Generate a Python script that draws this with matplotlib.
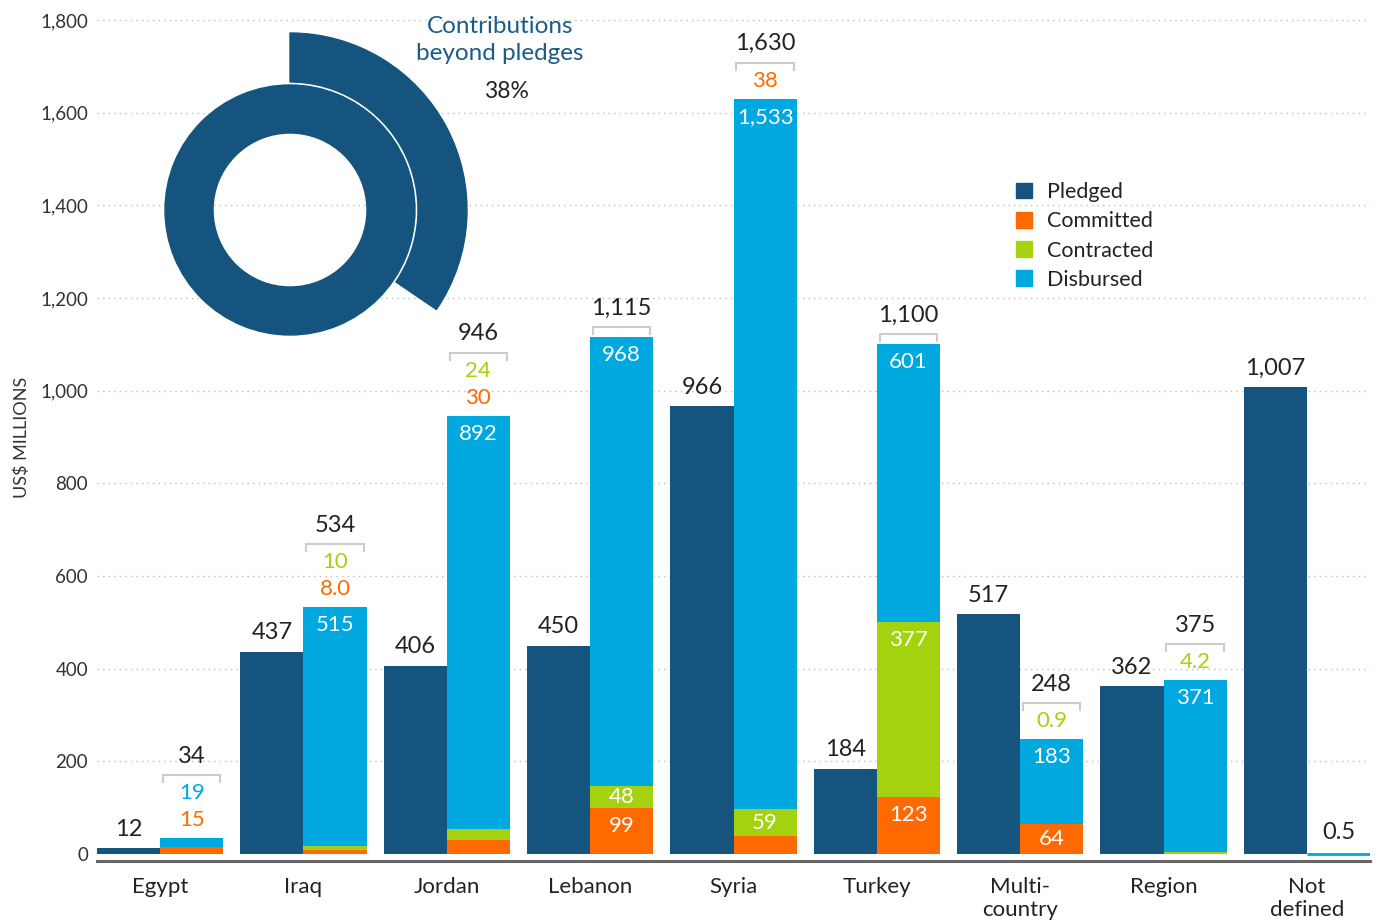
import numpy as np
import matplotlib
matplotlib.use("Agg")
import matplotlib.pyplot as plt
from matplotlib.patches import Patch, Wedge
from matplotlib.ticker import FuncFormatter
from matplotlib import transforms

plt.rcParams['font.family'] = ['Lato', 'DejaVu Sans']

# data (US$ millions)
categories = ['Egypt', 'Iraq', 'Jordan', 'Lebanon', 'Syria', 'Turkey',
              'Multi-\ncountry', 'Region', 'Not\ndefined']
pledged = [12, 437, 406, 450, 966, 184, 517, 362, 1007]
committed = [15, 8.0, 30, 99, 38, 123, 64, 0, 0]
contracted = [0, 10, 24, 48, 59, 377, 0.9, 4.2, 0]
disbursed = [19, 515, 892, 968, 1533, 601, 183, 371, 0.5]
totals = [34, 534, 946, 1115, 1630, 1100, 248, 375, 0.5]

beyond_label = '38%'
arc_share = 0.345   # share of the circle covered by the outer arc, as drawn

c_pledged = '#14547f'
c_committed = '#ff6a00'
c_contracted = '#a4d20e'
c_disbursed = '#00a8e0'
c_text = '#222222'

W, H = 1377, 922
fig = plt.figure(figsize=(W / 100, H / 100), dpi=100)
ax = fig.add_axes([97 / W, 1 - 860.5 / H, 1273 / W, 842.8 / H])

ymin, ymax = -14, 1805
ax.set_xlim(-0.44, 8.44)
ax.set_ylim(ymin, ymax)
ppu = 842.8 / (ymax - ymin)   # pixels per unit

for g in range(200, 1801, 200):
    ax.axhline(g, color='#bdbdbd', lw=1, ls=(0, (1, 3)), zorder=0)

w = 0.44
x = np.arange(len(categories))


def fmt(v):
    return f'{v:.1f}' if v < 10 else f'{v:,.0f}'


def off(dy):
    return transforms.offset_copy(ax.transData, fig=fig, x=0, y=dy, units='dots')


# pledged bars
ax.bar(x - w / 2, pledged, width=w, color=c_pledged, zorder=2)
for xi, v in zip(x, pledged):
    ax.annotate(fmt(v), (xi - w / 2, v), xytext=(0, 19), textcoords='offset pixels',
                ha='center', va='center', fontsize=17, color=c_text)

# stacked bars: committed, contracted, disbursed
segs = [(committed, c_committed), (contracted, c_contracted), (disbursed, c_disbursed)]
bottom = np.zeros(len(categories))
for vals, col in segs:
    ax.bar(x + w / 2, vals, width=w, bottom=bottom, color=col, zorder=2)
    bottom = bottom + np.array(vals)
# the 0.5 sliver still shows as a thin line
ax.plot([x[-1], x[-1] + w], [0.5, 0.5], color=c_disbursed, lw=2, zorder=2,
        solid_capstyle='butt')

for i in range(len(categories)):
    xs = x[i] + w / 2
    top = bottom[i]
    base = 0
    outside = []
    nonzero = 0
    for vals, col in segs:
        v = vals[i]
        if v == 0:
            continue
        nonzero += 1
        hpx = v * ppu
        if hpx >= 20:
            dy = -min(18, hpx / 2)
            ax.annotate(fmt(v), (xs, base + v), xytext=(0, dy), textcoords='offset pixels',
                        ha='center', va='center', fontsize=16, color='white', zorder=3)
        else:
            outside.append((v, col))
        base += v
    if nonzero == 1 and len(outside) == 1:
        ax.annotate(fmt(totals[i]), (xs, top), xytext=(0, 21), textcoords='offset pixels',
                    ha='center', va='center', fontsize=17, color=c_text)
        continue
    dy = 18
    for k, (v, col) in enumerate(outside):
        ax.annotate(fmt(v), (xs, top), xytext=(0, dy), textcoords='offset pixels',
                    ha='center', va='center', fontsize=16, color=col)
        dy += 27
    dy_br = dy - 9 if outside else 10
    tr = off(dy_br)
    ax.plot([xs - w / 2 + 0.02, xs - w / 2 + 0.02, xs + w / 2 - 0.02, xs + w / 2 - 0.02],
            [top - 7 / ppu, top, top, top - 7 / ppu], color='#cccccc', lw=1.5,
            transform=tr, solid_joinstyle='miter', clip_on=False)
    ax.annotate(fmt(totals[i]), (xs, top), xytext=(0, dy_br + 19), textcoords='offset pixels',
                ha='center', va='center', fontsize=17, color=c_text)

# axes styling
for s in ['top', 'right', 'left']:
    ax.spines[s].set_visible(False)
ax.spines['bottom'].set_color('#666666')
ax.spines['bottom'].set_linewidth(2.2)
ax.set_xticks(x)
ax.set_xticklabels(categories)
ax.set_yticks(range(0, 1801, 200))
ax.yaxis.set_major_formatter(FuncFormatter(lambda v, p: f'{v:,.0f}'))
ax.tick_params(axis='y', length=0, pad=6.5, labelsize=13.5, labelcolor='#333333')
ax.tick_params(axis='x', length=0, pad=12, labelsize=16, labelcolor=c_text)
fig.text(22 / W, 1 - 437 / H, 'US$ MILLIONS', rotation=90, ha='center', va='center',
         fontsize=13, color='#333333')

# legend
handles = [Patch(color=c_pledged, label='Pledged'), Patch(color=c_committed, label='Committed'),
           Patch(color=c_contracted, label='Contracted'), Patch(color=c_disbursed, label='Disbursed')]
fig.legend(handles=handles, loc='upper left', bbox_to_anchor=(1016 / W, 1 - 182 / H),
           frameon=False, fontsize=15.5, handlelength=0.75, handleheight=0.75,
           handletextpad=0.7, labelspacing=0.43, borderpad=0, borderaxespad=0,
           labelcolor=c_text)

# donut inset: contributions beyond pledges
dax = fig.add_axes([120 / W, 1 - 345 / H, 360 / W, 320 / H])
dax.set_xlim(120, 480)
dax.set_ylim(H - 345, H - 25)
dax.axis('off')
cx, cy = 290, H - 210
dax.add_patch(Wedge((cx, cy), 125, 0, 360, width=48, color=c_pledged))
dax.add_patch(Wedge((cx, cy), 177, 90 - 360 * arc_share, 90, width=49, color=c_pledged))

fig.text(500 / W, 1 - 40 / H, 'Contributions\nbeyond pledges', ha='center', va='center',
         fontsize=17.5, color='#1b5b8a', linespacing=1.3)
fig.text(506 / W, 1 - 92 / H, beyond_label, ha='center', va='center', fontsize=16.5,
         color=c_text)

fig.savefig('out.png', dpi=100, facecolor='white')
